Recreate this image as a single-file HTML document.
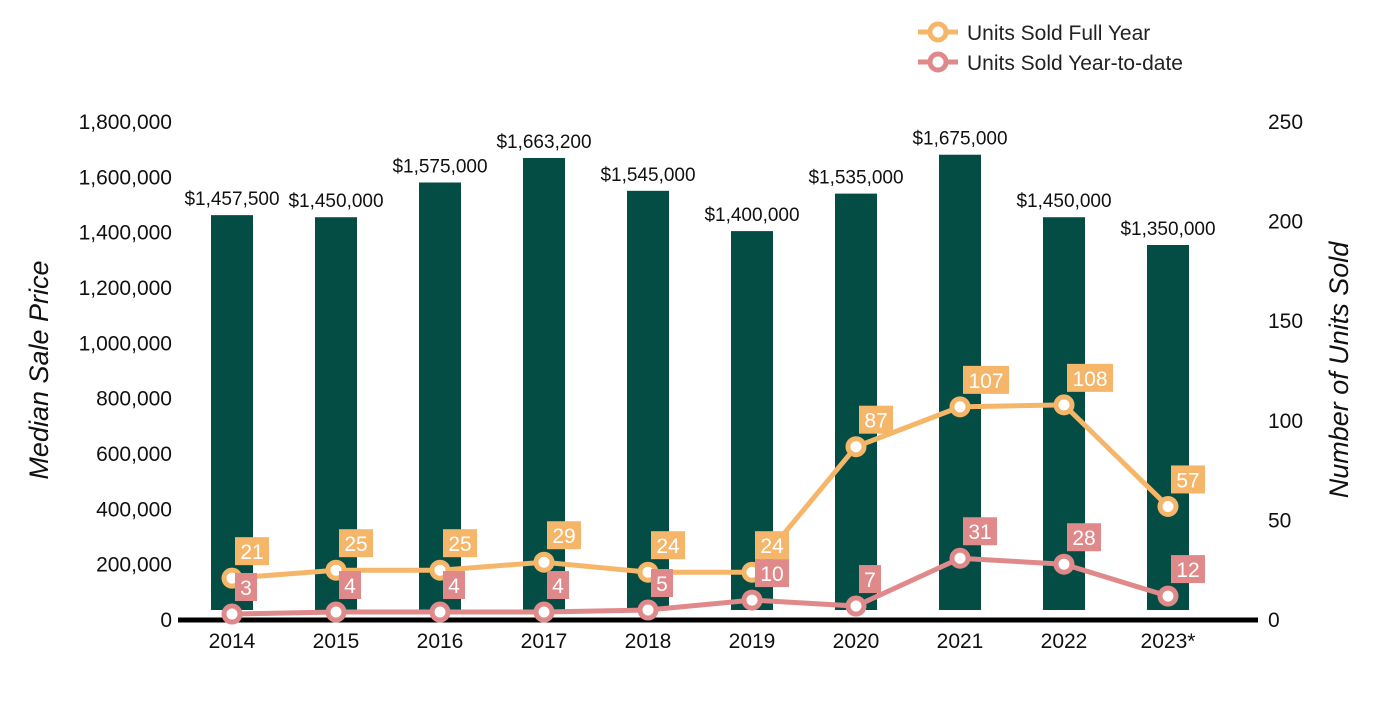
<!DOCTYPE html>
<html><head><meta charset="utf-8"><style>
body{margin:0;background:#fff;}
svg text{font-family:"Liberation Sans",Arial,sans-serif;}
</style></head><body>
<svg id="c" width="1400" height="700" xmlns="http://www.w3.org/2000/svg">
<g>
 <g>
  <line x1="918" y1="32" x2="958" y2="32" stroke="#F5B66A" stroke-width="5"/>
  <circle cx="938" cy="32" r="8" fill="#fff" stroke="#F5B66A" stroke-width="5"/>
  <text x="967" y="40" font-size="21" fill="#222">Units Sold Full Year</text>
 </g>
 <g>
  <line x1="918" y1="62" x2="958" y2="62" stroke="#E0898A" stroke-width="5"/>
  <circle cx="938" cy="62" r="8" fill="#fff" stroke="#E0898A" stroke-width="5"/>
  <text x="967" y="70" font-size="21" fill="#222">Units Sold Year-to-date</text>
 </g>
</g>
<text transform="translate(48,370) rotate(-90)" text-anchor="middle" font-size="27" font-style="italic" fill="#111">Median Sale Price</text>
<text transform="translate(1348,370) rotate(-90)" text-anchor="middle" font-size="27" font-style="italic" fill="#111">Number of Units Sold</text>
<g id="g"></g>
</svg>
<script>
const categories=["2014","2015","2016","2017","2018","2019","2020","2021","2022","2023*"];
const prices=[1457500,1450000,1575000,1663200,1545000,1400000,1535000,1675000,1450000,1350000];
const priceLabels=["$1,457,500","$1,450,000","$1,575,000","$1,663,200","$1,545,000","$1,400,000","$1,535,000","$1,675,000","$1,450,000","$1,350,000"];
const fullYear=[21,25,25,29,24,24,87,107,108,57];
const ytd=[3,4,4,4,5,10,7,31,28,12];
const leftTicks=[0,200000,400000,600000,800000,1000000,1200000,1400000,1600000,1800000];
const rightTicks=[0,50,100,150,200,250];
const NS="http://www.w3.org/2000/svg";
const g=document.getElementById('g');
const y0=620,yTop=122,yTopBar=120;
const yL=v=>y0-v/1800000*(y0-yTop);
const yB=v=>y0-v/1800000*(y0-yTopBar);
const yR=v=>y0-v/250*(y0-yTop);
const xC=i=>232+i*104;
function el(t,a,p){const e=document.createElementNS(NS,t);for(const k in a)e.setAttribute(k,a[k]);(p||g).appendChild(e);return e;}
leftTicks.forEach(v=>{const t=el('text',{x:172,y:yL(v)+7,'text-anchor':'end','font-size':21,fill:'#111'});t.textContent=v.toLocaleString('en-US');

});
rightTicks.forEach(v=>{const t=el('text',{x:1268,y:yR(v)+7,'text-anchor':'start','font-size':21,fill:'#111'});t.textContent=v;

});
prices.forEach((v,i)=>{const b=el('rect',{x:xC(i)-21,y:yB(v),width:42,height:610-yB(v),fill:'#034D44'});


const t=el('text',{x:xC(i),y:yB(v)-10,'text-anchor':'middle','font-size':19,fill:'#111'});t.textContent=priceLabels[i];


const c=el('text',{x:xC(i),y:648,'text-anchor':'middle','font-size':21,fill:'#111'});c.textContent=categories[i];

});
const ax=el('line',{x1:178,y1:620,x2:1258,y2:620,stroke:'#000','stroke-width':5});


function series(vals,color,name){
 const pl=el('polyline',{points:vals.map((v,i)=>xC(i)+','+yR(v)).join(' '),fill:'none',stroke:color,'stroke-width':5});
 
 
 vals.forEach((v,i)=>{const c=el('circle',{cx:xC(i),cy:yR(v),r:8,fill:'#fff',stroke:color,'stroke-width':5});
 
 });
}
function labels(vals,color,name){
 vals.forEach((v,i)=>{const s=String(v);const w=s.length*12+10;
 const r=el('rect',{x:xC(i)+3,y:yR(v)-41,width:w,height:28,fill:color});
 
 
 const t=el('text',{x:xC(i)+3+w/2,y:yR(v)-19,'text-anchor':'middle','font-size':21,fill:'#fff'});t.textContent=s;
 
 });
}
series(ytd,'#E0898A','ytd');
series(fullYear,'#F5B66A','full-year');
labels(ytd,'#E0898A','ytd');
labels(fullYear,'#F5B66A','full-year');
</script>
</body></html>
